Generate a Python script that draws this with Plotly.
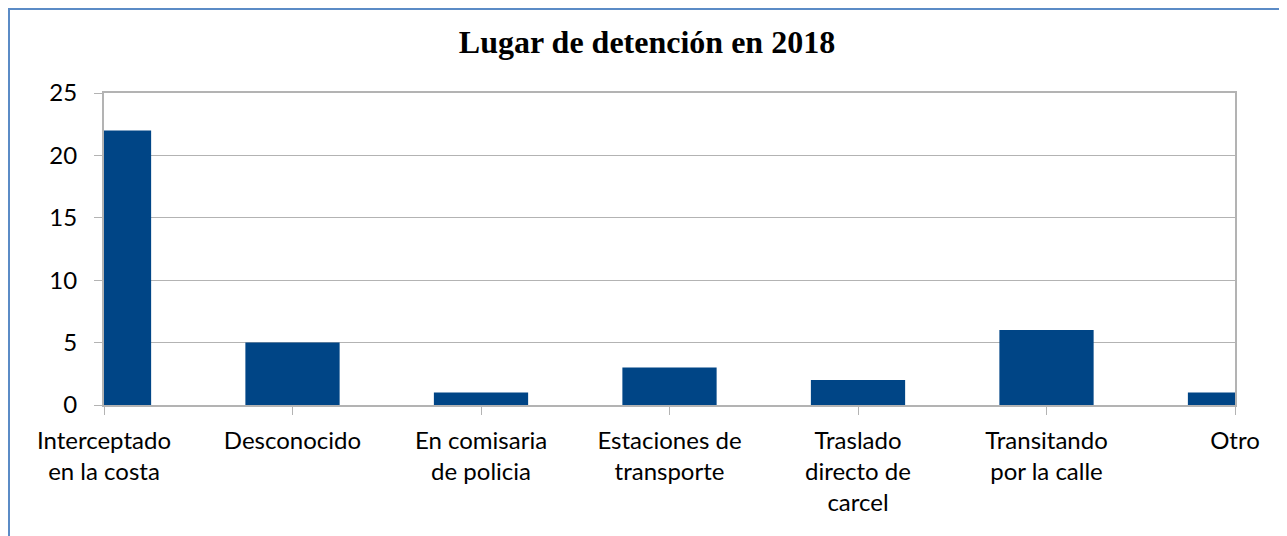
import plotly.graph_objects as go

categorias = ["Interceptado<br>en la costa", "Desconocido", "En comisaria<br>de policia",
              "Estaciones de<br>transporte", "Traslado<br>directo de<br>carcel",
              "Transitando<br>por la calle", "Otro"]
valores = [22, 5, 1, 3, 2, 6, 1]
posiciones = list(range(len(categorias)))

fig = go.Figure(go.Bar(
    x=posiciones,
    y=valores,
    width=0.5,
    marker=dict(color="#004586", line=dict(width=0)),
))

# the page body adds 8px, so the figure is a bit smaller than the window
fig.update_layout(
    width=1279, height=528,
    margin=dict(l=96, r=52, t=85, b=131),
    paper_bgcolor="white", plot_bgcolor="white",
    title=dict(text="<b>Lugar de detención en 2018</b>", x=0.4996, xanchor="center",
               y=0.936, yanchor="middle",
               font=dict(family="Liberation Serif", size=32, color="black")),
    font=dict(family="Lato", size=24, color="black"),
    showlegend=False,
    shapes=[dict(type="rect", xref="paper", yref="paper", x0=-0.084, x1=1.2, y0=-0.5, y1=1.269,
                 line=dict(color="#5b8bc6", width=2), layer="below")],
)
fig.update_xaxes(
    range=[0, 6], tickvals=posiciones, ticktext=categorias, automargin=False,
    showgrid=False, showline=True, linecolor="#b3b3b3", linewidth=2, mirror=True,
    ticks="outside", ticklen=8, tickcolor="#b3b3b3", tickwidth=1, zeroline=False,
    ticklabelstandoff=5, tickfont=dict(size=24),
)
fig.update_yaxes(
    range=[0, 25], dtick=5, showgrid=True, gridcolor="#b3b3b3", gridwidth=1,
    showline=True, linecolor="#b3b3b3", linewidth=2, mirror=True, automargin=False,
    ticks="outside", ticklen=8, tickcolor="#b3b3b3", ticklabelstandoff=12,
    zeroline=False, tickfont=dict(size=24),
)

fig.write_html("out.html")
